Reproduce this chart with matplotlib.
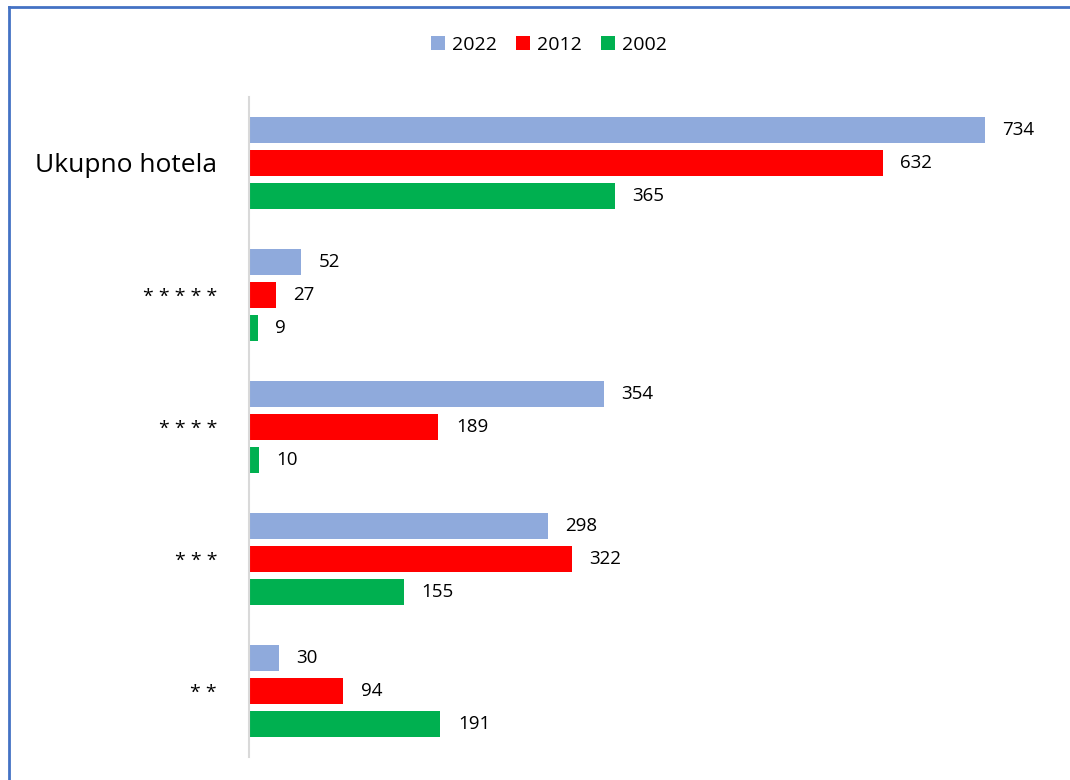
import matplotlib.pyplot as plt
import numpy as np
from matplotlib.lines import Line2D
from matplotlib.patches import Patch

categories = ["Ukupno hotela", "* * * * *", "* * * *", "* * *", "* *"]
years = ["2022", "2012", "2002"]
hotels_2022 = [734, 52, 354, 298, 30]
hotels_2012 = [632, 27, 189, 322, 94]
hotels_2002 = [365, 9, 10, 155, 191]
colors = ["#8faadc", "#ff0000", "#00b050"]

plt.rcParams["font.family"] = ["Open Sans", "DejaVu Sans"]

fig = plt.figure(figsize=(10.7, 7.8), dpi=100)
ax = fig.add_axes([249 / 1070, 1 - 757 / 780, (1070 - 249) / 1070, 660 / 780])

y = np.arange(len(categories))
bar_h = 0.2
offsets = [-0.25, 0.0, 0.25]
series = [hotels_2022, hotels_2012, hotels_2002]
for values, off, color, year in zip(series, offsets, colors, years):
    bars = ax.barh(y + off, values, height=bar_h, color=color, label=year)
    ax.bar_label(bars, padding=12.5, fontsize=13.5, color="#000000")

ax.set_ylim(len(categories) - 0.5, -0.5)
ax.set_xlim(0, 819)
ax.set_yticks(y)
ax.set_yticklabels(categories)
for lbl in ax.get_yticklabels():
    if lbl.get_text() == "Ukupno hotela":
        lbl.set_fontsize(19)
    else:
        lbl.set_fontsize(14)
ax.tick_params(axis="y", length=0, pad=23)
ax.set_xticks([])
for side in ["top", "right", "bottom"]:
    ax.spines[side].set_visible(False)
ax.spines["left"].set_color("#d9d9d9")
ax.spines["left"].set_linewidth(1.5)

handles = [Patch(facecolor=c, label=yr) for c, yr in zip(colors, years)]
fig.legend(handles=handles, loc="center", bbox_to_anchor=(549 / 1070, 1 - 45 / 780),
           ncol=3, frameon=False, fontsize=14, handlelength=0.7, handleheight=0.7,
           handletextpad=0.35, columnspacing=1.0)

# blue outer border (left and top edges visible)
fig.add_artist(Line2D([8.5 / 1070, 8.5 / 1070], [0, 1 - 6.5 / 780], color="#4472c4", linewidth=2,
                      transform=fig.transFigure))
fig.add_artist(Line2D([8.5 / 1070, 1], [1 - 6.5 / 780, 1 - 6.5 / 780], color="#4472c4", linewidth=2,
                      transform=fig.transFigure))

fig.savefig("out.png", dpi=100)
